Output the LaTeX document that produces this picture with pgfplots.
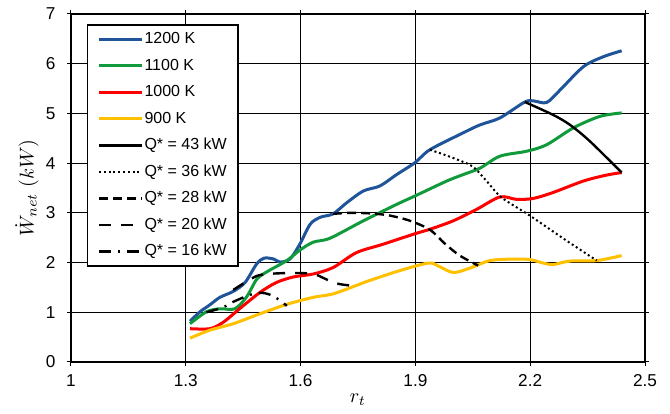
\documentclass[border=0pt]{standalone}
\usepackage{pgfplots}
\pgfplotsset{compat=1.18}
\usepackage{fontspec}
\setmainfont{Liberation Sans}
\definecolor{cblue}{HTML}{1F5499}
\definecolor{cgreen}{HTML}{119A3B}
\definecolor{cred}{HTML}{FF0000}
\definecolor{cyel}{HTML}{FFC000}
\begin{document}
\begin{tikzpicture}
\begin{axis}[
  scale only axis, width=287pt, height=174pt,
  xmin=1, xmax=2.5, ymin=0, ymax=7,
  xtick={1,1.3,1.6,1.9,2.2,2.5},
  ytick={0,1,2,3,4,5,6,7},
  /pgf/number format/assume math mode=true,
  tick label style={font=\fontsize{8.6}{9}\selectfont},
  yticklabel style={xshift=-2.5pt},
  xticklabel style={yshift=-1pt},
  tick align=outside, major tick length=1.8pt,
  tick style={black, line width=0.5pt},
  grid=major, major grid style={black, line width=0.5pt},
  axis line style={black, line width=1pt},
  xlabel={$r_t$}, ylabel={$\dot{W}_{net}\ (kW)$},
  label style={font=\fontsize{10}{12}\selectfont},
  xlabel style={at={(axis description cs:0.5,-0.109)}, anchor=center},
  ylabel style={at={(axis description cs:-0.0767,0.5)}, anchor=center},
  legend cell align=left,
  legend image code/.code={\draw[#1] (0pt,0pt) -- (21.5pt,0pt);},
  legend style={at={(0.0274,0.971)}, anchor=north west, draw=black, line width=0.8pt,
    font=\fontsize{8}{9}\selectfont, row sep=4.75pt, inner xsep=5pt, inner ysep=3pt,
    nodes={inner sep=0.5pt, text height=6pt, text depth=1.5pt},
    /tikz/every even column/.append style={column sep=1pt}},
]
\addplot[cblue, line width=1.5pt, smooth, tension=0.5] coordinates {
(1.311,0.82) (1.337,1.01) (1.363,1.15) (1.389,1.30) (1.424,1.42) (1.455,1.60) (1.485,1.97) (1.505,2.09) (1.53,2.07) (1.546,2.01) (1.572,2.07) (1.598,2.37) (1.625,2.77) (1.651,2.91) (1.685,2.98) (1.72,3.2) (1.764,3.44) (1.807,3.54) (1.851,3.77) (1.899,4.01) (1.938,4.27) (2.025,4.61) (2.069,4.77) (2.121,4.91) (2.186,5.23) (2.21,5.25) (2.243,5.22) (2.278,5.47) (2.339,5.94) (2.391,6.14) (2.439,6.26)};
\addlegendentry{1200 K}
\addplot[cgreen, line width=1.5pt, smooth, tension=0.5] coordinates {
(1.311,0.77) (1.354,1.01) (1.389,1.07) (1.428,1.07) (1.459,1.31) (1.485,1.66) (1.511,1.81) (1.564,2.04) (1.598,2.25) (1.633,2.41) (1.677,2.49) (1.764,2.84) (1.851,3.17) (1.899,3.34) (1.982,3.64) (2.025,3.77) (2.069,3.90) (2.121,4.14) (2.191,4.24) (2.243,4.37) (2.313,4.71) (2.382,4.94) (2.439,5.01)};
\addlegendentry{1100 K}
\addplot[cred, line width=1.5pt, smooth, tension=0.5] coordinates {
(1.311,0.67) (1.363,0.67) (1.398,0.80) (1.442,1.08) (1.494,1.40) (1.537,1.60) (1.581,1.71) (1.633,1.77) (1.685,1.90) (1.746,2.20) (1.816,2.37) (1.899,2.58) (1.938,2.67) (1.999,2.84) (2.060,3.07) (2.121,3.32) (2.165,3.27) (2.208,3.29) (2.260,3.41) (2.339,3.64) (2.400,3.76) (2.439,3.81)};
\addlegendentry{1000 K}
\addplot[cyel, line width=1.5pt, smooth, tension=0.5] coordinates {
(1.311,0.48) (1.363,0.64) (1.424,0.77) (1.494,0.97) (1.564,1.16) (1.633,1.30) (1.685,1.37) (1.746,1.54) (1.773,1.62) (1.860,1.84) (1.934,1.99) (1.960,1.93) (1.999,1.80) (2.043,1.89) (2.095,2.04) (2.156,2.07) (2.199,2.06) (2.234,1.99) (2.26,1.96) (2.304,2.03) (2.374,2.04) (2.439,2.14)};
\addlegendentry{900 K}
\addplot[black, line width=1.2pt, smooth, tension=0.5] coordinates {
(2.186,5.23) (2.26,4.97) (2.304,4.77) (2.356,4.44) (2.439,3.81)};
\addlegendentry{Q* = 43 kW}
\addplot[black, line width=1pt, dash pattern=on 1pt off 1.4pt, smooth, tension=0.5] coordinates {
(1.938,4.27) (2.0,4.1) (2.05,3.93) (2.086,3.64) (2.125,3.31) (2.2,2.94) (2.295,2.44) (2.374,2.04)};
\addlegendentry{Q* = 36 kW}
\addplot[black, line width=1.2pt, dash pattern=on 4.5pt off 2.5pt, smooth, tension=0.5] coordinates {
(1.685,2.98) (1.729,3.0) (1.78,2.99) (1.83,2.95) (1.886,2.84) (1.938,2.66) (1.977,2.38) (2.016,2.14) (2.064,1.94)};
\addlegendentry{Q* = 28 kW}
\addplot[black, line width=1.2pt, dash pattern=on 6pt off 5pt, smooth, tension=0.5] coordinates {
(1.424,1.45) (1.455,1.60) (1.489,1.74) (1.533,1.78) (1.598,1.79) (1.638,1.76) (1.668,1.66) (1.700,1.57) (1.751,1.52)};
\addlegendentry{Q* = 20 kW}
\addplot[black, line width=1.2pt, dash pattern=on 6pt off 3.5pt on 1pt off 3.5pt, smooth, tension=0.5] coordinates {
(1.354,1.0) (1.398,1.10) (1.424,1.21) (1.468,1.35) (1.50,1.39) (1.53,1.32) (1.564,1.13)};
\addlegendentry{Q* = 16 kW}
\end{axis}
\pgfresetboundingbox
\path ([shift={(-35.5pt,-26pt)}]current axis.south west) rectangle ([shift={(12.5pt,7pt)}]current axis.north east);
\end{tikzpicture}
\end{document}
